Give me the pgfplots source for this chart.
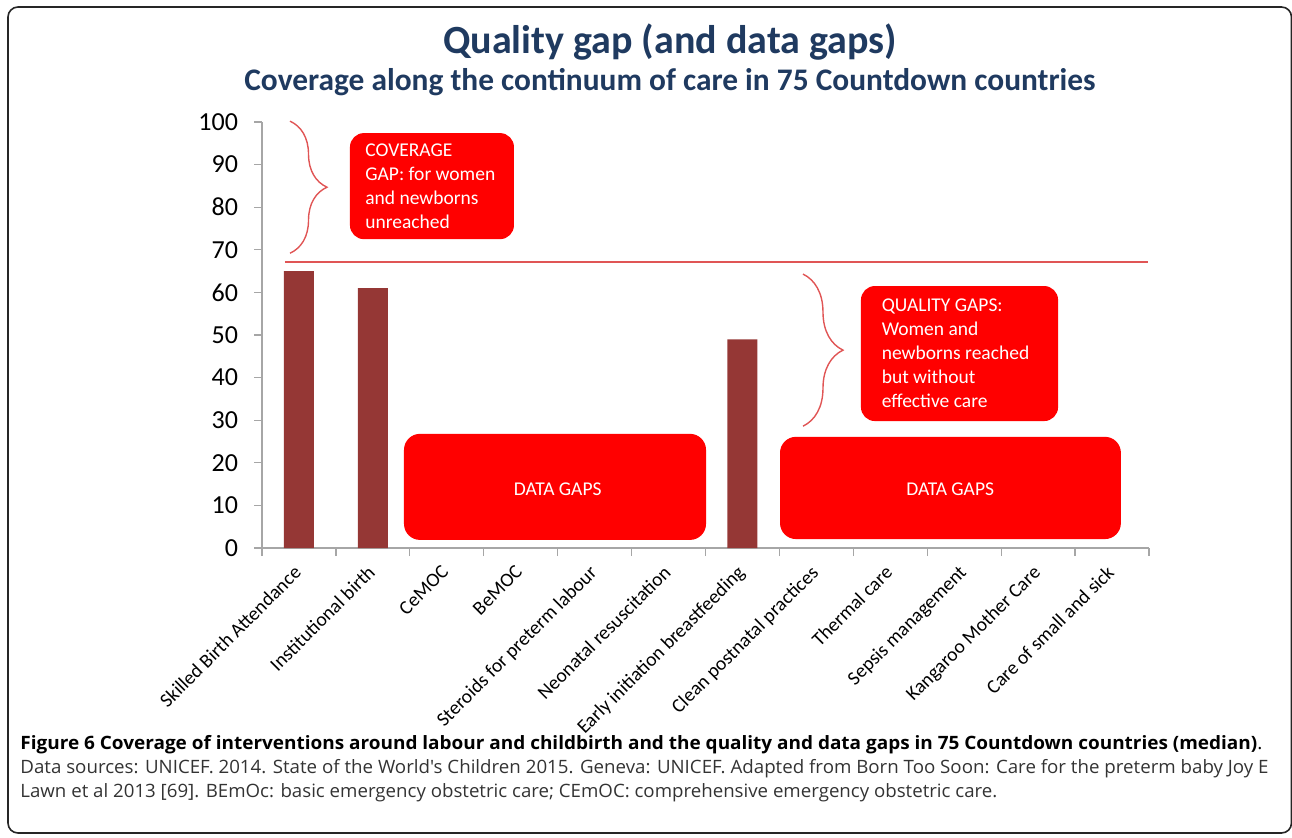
\documentclass[border=0pt]{standalone}
\usepackage{graphicx}
\usepackage{pgfplots}
\pgfplotsset{compat=1.18}
\usepackage{fontspec}
\setmainfont{Carlito}
\newfontfamily\capfont{Open Sans}
\usetikzlibrary{decorations.pathreplacing}
\definecolor{barred}{HTML}{953735}
\definecolor{boxred}{HTML}{FF0000}
\definecolor{linered}{HTML}{E05555}
\definecolor{titleblue}{HTML}{1F3A60}
\definecolor{axisgray}{HTML}{A6A6A6}
\definecolor{capgray}{HTML}{333333}

\begin{document}
\begin{tikzpicture}[x=0.5pt,y=-0.5pt]
\useasboundingbox (0,0) rectangle (1292,837);
\draw[line width=0.8pt, black!85, rounded corners=5pt] (8,7) rectangle (1291.5,833);
\node[font=\fontsize{20}{24}\selectfont\bfseries, text=titleblue] at (670,42) {Quality gap (and data gaps)};
\node[font=\fontsize{15.7}{18}\selectfont\bfseries, text=titleblue] at (670,82) {Coverage along the continuum of care in 75 Countdown countries};

\begin{axis}[
  at={(131pt,-274pt)}, anchor=south west,
  scale only axis, width=443.5pt, height=213pt,
  xmin=-0.5, xmax=11.5, ymin=0, ymax=100,
  axis x line*=bottom, axis y line*=left,
  axis line style={axisgray, line width=0.6pt},
  tick style={axisgray, line width=0.6pt},
  tick align=outside,
  major tick length=4pt, minor tick length=4pt,
  ytick={0,10,...,100},
  yticklabel style={font=\fontsize{13}{15}\selectfont, xshift=-4.5pt},
  /pgf/number format/assume math mode=true,
  xtick={0,...,11},
  minor xtick={-0.5,0.5,...,11.5},
  major x tick style={draw=none},
  xticklabels={Skilled Birth Attendance, Institutional birth, CeMOC, BeMOC, Steroids for preterm labour, Neonatal resuscitation, Early initiation breastfeeding, Clean postnatal practices, Thermal care, Sepsis management, Kangaroo Mother Care, Care of small and sick},
  xticklabel style={rotate=45, anchor=north east, font=\fontsize{9.8}{12}\selectfont, inner sep=1pt, xshift=-4pt, yshift=0.5pt},
  clip=false,
]
\addplot[ybar, bar width=15pt, fill=barred, draw=none] coordinates {(0,65) (1,61) (6,49)};

\draw[linered, line width=0.7pt] (axis cs:-0.189,67.1) -- (axis cs:11.486,67.1);

\fill[boxred, rounded corners=7pt] (axis cs:0.690,97.4) rectangle (axis cs:2.909,72.5);
\fill[boxred, rounded corners=7pt] (axis cs:7.603,61.5) rectangle (axis cs:10.27,29.8);
\fill[boxred, rounded corners=8pt] (axis cs:1.421,26.8) rectangle (axis cs:5.507,1.9);
\fill[boxred, rounded corners=8pt] (axis cs:6.508,26.1) rectangle (axis cs:11.12,2.1);

\draw[linered, line width=0.7pt, decorate, decoration={brace, amplitude=18.5pt}] (axis cs:-0.121,100.2) -- (axis cs:-0.121,69.2);
\draw[linered, line width=0.7pt, decorate, decoration={brace, amplitude=20pt}] (axis cs:6.819,64.3) -- (axis cs:6.819,28.6);

\node[anchor=north west, inner sep=0pt, align=left, text=white, font=\fontsize{9.75}{12}\selectfont] at (axis cs:0.893,95.0) {COVERAGE\\GAP: for women\\and newborns\\unreached};
\node[anchor=north west, inner sep=0pt, align=left, text=white, font=\fontsize{9.75}{12}\selectfont] at (axis cs:7.88,58.5) {QUALITY GAPS:\\Women and\\newborns reached\\but without\\effective care};
\node[text=white, font=\fontsize{9.75}{12}\selectfont] at (axis cs:3.50,13.8) {DATA GAPS};
\node[text=white, font=\fontsize{9.75}{12}\selectfont] at (axis cs:8.81,13.8) {DATA GAPS};
\end{axis}

\node[anchor=base west, inner sep=0pt] at (20,749) {\resizebox{621pt}{\height}{\capfont\fontsize{9.2}{11}\selectfont\bfseries Figure 6 Coverage of interventions around labour and childbirth and the quality and data gaps in 75 Countdown countries (median)\mdseries.}};
\node[anchor=base west, inner sep=0pt, text=capgray] at (20,773) {\resizebox{624pt}{\height}{\capfont\fontsize{9.2}{11}\selectfont Data sources: UNICEF. 2014. State of the World's Children 2015. Geneva: UNICEF. Adapted from Born Too Soon: Care for the preterm baby Joy E}};
\node[anchor=base west, inner sep=0pt, text=capgray] at (20,797) {\resizebox{488.5pt}{\height}{\capfont\fontsize{9.2}{11}\selectfont Lawn et al 2013 [69]. BEmOc: basic emergency obstetric care; CEmOC: comprehensive emergency obstetric care.}};
\end{tikzpicture}
\end{document}
